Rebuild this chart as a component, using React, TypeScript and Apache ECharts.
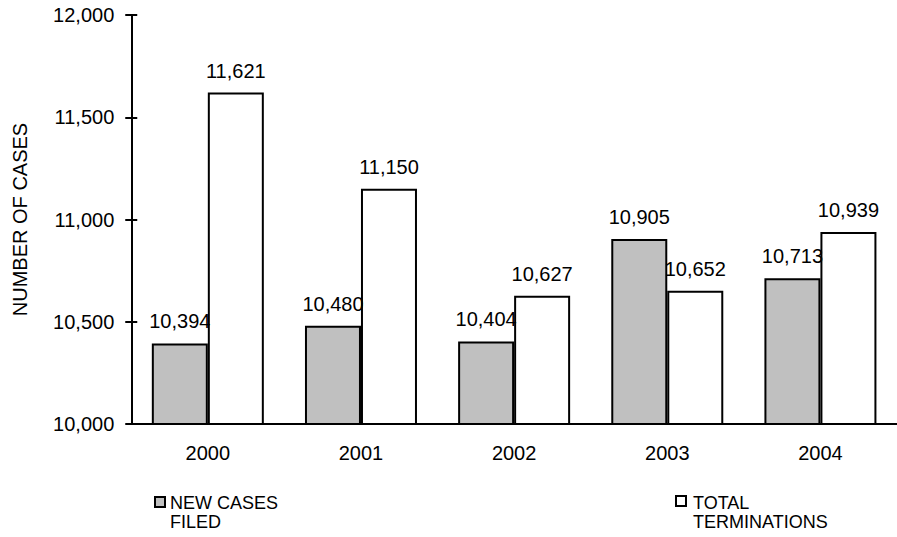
import React, { useEffect, useRef } from "react";
import * as echarts from "echarts";

const years = ["2000", "2001", "2002", "2003", "2004"];
const newCasesFiled = [10394, 10480, 10404, 10905, 10713];
const totalTerminations = [11621, 11150, 10627, 10652, 10939];
const seriesNames = ["NEW CASES FILED", "TOTAL TERMINATIONS"];
const legendTexts = ["NEW CASES\nFILED", "TOTAL\nTERMINATIONS"];

const FONT = "Liberation Sans, Arial, sans-serif";

export default function App() {
  const ref = useRef<HTMLDivElement>(null);
  useEffect(() => {
    if (!ref.current) return;
    const chart = echarts.init(ref.current, undefined, { renderer: "svg" });
    const fmt = (v: number) => v.toLocaleString("en-US");
    const labelCfg = {
      show: true,
      position: "top" as const,
      distance: 12,
      color: "#000",
      fontFamily: FONT,
      fontSize: 20,
      formatter: (p: any) => fmt(p.value),
    };
    chart.setOption({
      animation: false,
      backgroundColor: "#fff",
      grid: { left: 131.25, top: 15, width: 772.5, height: 409 },
      xAxis: {
        type: "category",
        data: years,
        axisLine: { show: true, lineStyle: { color: "#000", width: 2 } },
        axisTick: { show: false },
        axisLabel: { color: "#000", fontFamily: FONT, fontSize: 20, margin: 19 },
      },
      yAxis: [
        {
          type: "value",
          min: 10000,
          max: 12000,
          interval: 500,
          offset: -6,
          name: "NUMBER OF CASES",
          nameLocation: "middle",
          nameGap: 107,
          nameTextStyle: { color: "#000", fontFamily: FONT, fontSize: 20 },
          splitLine: { show: false },
          axisLine: { show: true, lineStyle: { color: "#000", width: 2, opacity: 0 } },
          axisTick: { show: true, length: 12, lineStyle: { color: "#000", width: 2, opacity: 1 } },
          axisLabel: {
            color: "#000",
            fontFamily: FONT,
            fontSize: 20,
            margin: 23,
            formatter: (v: number) => fmt(v),
          },
        },
        {
          type: "value",
          min: 10000,
          max: 12000,
          interval: 500,
          position: "left",
          offset: 0,
          splitLine: { show: false },
          axisLine: { show: true, lineStyle: { color: "#000", width: 2 } },
          axisTick: { show: false },
          axisLabel: { show: false },
        },
      ],
      series: [
        {
          name: seriesNames[0],
          type: "bar",
          data: newCasesFiled,
          barWidth: 56,
          barGap: "0%",
          itemStyle: { color: "#c0c0c0", borderColor: "#000", borderWidth: 2 },
          label: labelCfg,
        },
        {
          name: seriesNames[1],
          type: "bar",
          data: totalTerminations,
          barWidth: 56,
          barGap: "0%",
          itemStyle: { color: "#fff", borderColor: "#000", borderWidth: 2 },
          label: labelCfg,
        },
      ],
      graphic: [
        {
          type: "rect",
          x: 155,
          y: 497,
          shape: { width: 10, height: 10 },
          style: { fill: "#c0c0c0", stroke: "#000", lineWidth: 2 },
        },
        {
          type: "text",
          x: 170,
          y: 493,
          style: {
            text: legendTexts[0],
            fill: "#000",
            font: `18px ${FONT}`,
            lineHeight: 19,
          },
        },
        {
          type: "rect",
          x: 676,
          y: 496,
          shape: { width: 10, height: 10 },
          style: { fill: "#fff", stroke: "#000", lineWidth: 2 },
        },
        {
          type: "text",
          x: 693,
          y: 493,
          style: {
            text: legendTexts[1],
            fill: "#000",
            font: `18px ${FONT}`,
            lineHeight: 19,
          },
        },
      ],
    });
    return () => chart.dispose();
  }, []);
  return <div ref={ref} style={{ width: 897, height: 537, position: "fixed", left: 0, top: 0 }} />;
}
